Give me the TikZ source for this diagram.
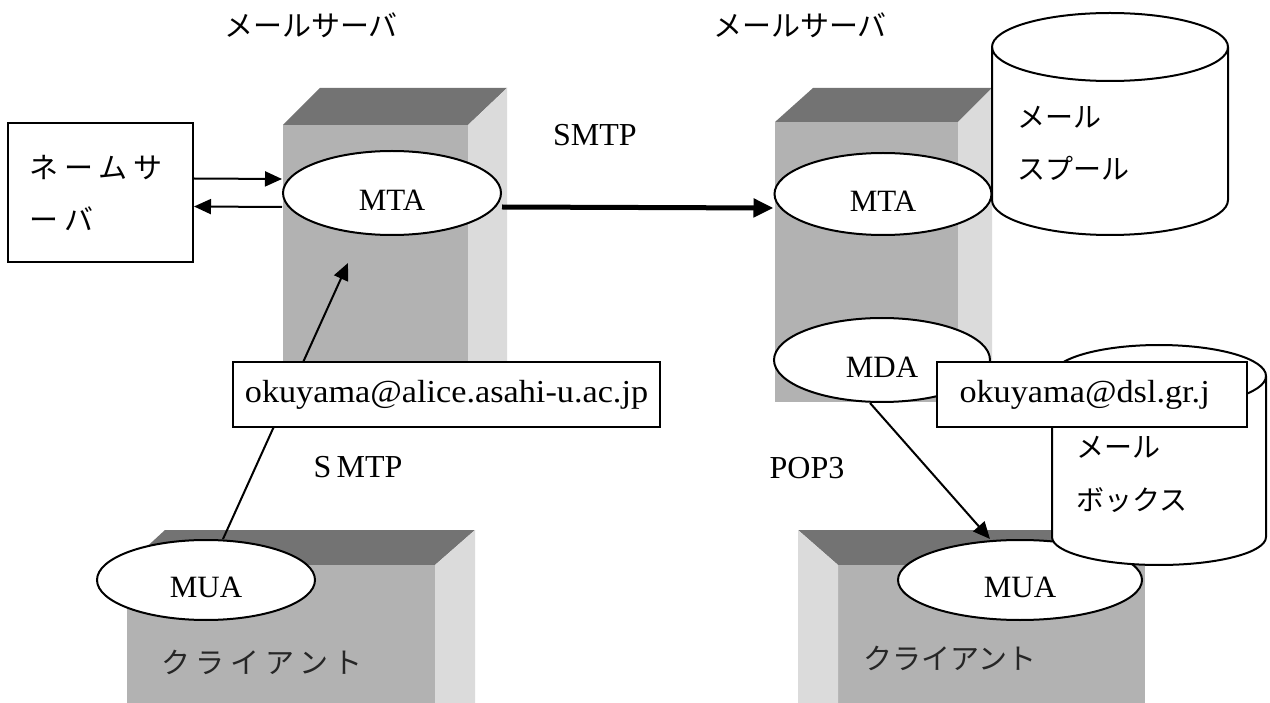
\documentclass[tikz,border=0pt]{standalone}
\usepackage{fontspec}
\usetikzlibrary{shapes.geometric,arrows.meta}
\setmainfont{Liberation Serif}
\newfontfamily\addrfont[FakeStretch=1.07]{Liberation Serif}
\newfontfamily\jp{Noto Sans CJK JP}
\newfontfamily\jpwide[LetterSpace=20]{Noto Sans CJK JP}
\begin{document}
\begin{tikzpicture}[x=1pt,y=-1pt,
  lbl/.style={font=\fontsize{32}{38}\selectfont},
  jtxt/.style={font=\jp\fontsize{28}{34}\selectfont},
  agent/.style={ellipse,draw,line width=2pt,fill=white,inner sep=0pt,text height=35pt,text depth=0pt,font=\fontsize{31}{37}\selectfont},
  addr/.style={draw,line width=2pt,fill=white,inner ysep=0pt,font=\addrfont\fontsize{32}{38}\selectfont},
  thinarrow/.style={line width=2pt,-{Triangle[length=17pt,width=15pt]}},
  thickarrow/.style={line width=5pt,-{Triangle[length=20pt,width=18pt]}},
  cyl/.style={line width=2pt,fill=white},
  frontface/.style={fill=black!30},
  topface/.style={fill=black!55},
  sideface/.style={fill=black!14},
]
\useasboundingbox (0,0) rectangle (1270,703);
\fill[white] (0,0) rectangle (1270,703);

% server blocks
\fill[topface] (283,125) -- (320,88) -- (507,88) -- (468,125) -- cycle;
\fill[frontface] (283,125) rectangle (468,400);
\fill[sideface] (468,125) -- (507,88) -- (507,365) -- (468,400) -- cycle;

\fill[topface] (775,122) -- (813,88) -- (992,88) -- (958,122) -- cycle;
\fill[frontface] (775,122) rectangle (958,402);
\fill[sideface] (958,122) -- (992,88) -- (992,370) -- (958,402) -- cycle;

% client blocks
\fill[topface] (127,565) -- (165,530) -- (475,530) -- (435,565) -- cycle;
\fill[frontface] (127,565) rectangle (435,703);
\fill[sideface] (435,565) -- (475,530) -- (475,703) -- (435,703) -- cycle;

\fill[topface] (798,530) -- (1105,530) -- (1145,565) -- (838,565) -- cycle;
\fill[frontface] (838,565) rectangle (1145,703);
\fill[sideface] (798,530) -- (838,565) -- (838,703) -- (798,703) -- cycle;

% titles and labels
\node[jtxt,font=\jp\fontsize{29}{34}\selectfont] (t1) at (311,25) {メールサーバ};
\node[jtxt,font=\jp\fontsize{29}{34}\selectfont] (t2) at (800,25) {メールサーバ};
\node[lbl] (smtp1) at (595,135) {SMTP};
\node[lbl] (smtp2) at (358,467) {S\,MTP};
\node[lbl] (pop) at (807,468) {POP3};
\node[font=\jpwide\fontsize{29}{34}\selectfont,text=black!85] (c1) at (262,662) {クライアント};
\node[font=\jp\fontsize{29}{34}\selectfont,text=black!85] (c2) at (950,658) {クライアント};

% mail spool
\filldraw[cyl] (992,47) -- (992,200) arc[start angle=180,end angle=0,x radius=118,y radius=35]
  -- (1228,47) arc[start angle=0,end angle=-180,x radius=118,y radius=34] -- cycle;
\draw[line width=2pt] (992,47) arc[start angle=180,end angle=0,x radius=118,y radius=34];
\node[jtxt,anchor=west] (sp1) at (1014,117) {メール};
\node[jtxt,anchor=west] (sp2) at (1014,168) {スプール};

% agents
\node[agent,minimum width=218pt,minimum height=84pt] (lmta) at (392,193) {MTA};
\node[agent,minimum width=217pt,minimum height=82pt] (rmta) at (883,194) {MTA};
\node[agent,minimum width=216pt,minimum height=84pt] (mda) at (882,360) {MDA};
\node[agent,minimum width=218pt,minimum height=80pt] (lmua) at (206,580) {MUA};
\node[agent,minimum width=244pt,minimum height=80pt] (rmua) at (1020,580) {MUA};

% mail box
\filldraw[cyl] (1052,376) -- (1052,537) arc[start angle=180,end angle=0,x radius=107,y radius=28]
  -- (1266,376) arc[start angle=0,end angle=-180,x radius=107,y radius=31] -- cycle;
\draw[line width=2pt] (1052,376) arc[start angle=180,end angle=0,x radius=107,y radius=31];
\node[jtxt,anchor=west] (mb1) at (1073,447) {メール};
\node[jtxt,anchor=west] (mb2) at (1073,500) {ボックス};

% name server
\node[draw,line width=2pt,minimum width=185pt,minimum height=139pt,text width=141pt,
  align=left,inner xsep=22pt,font=\jpwide\fontsize{29}{52}\selectfont] (ns) at (100.5,192.5) {ネームサ\\ーバ};

% connectors
\draw[thinarrow] ([yshift=14pt]ns.east) -- ([yshift=14pt]lmta.west);
\draw[thinarrow] ([yshift=-14pt]lmta.west) -- ([yshift=-14pt]ns.east);
\draw[thickarrow] ([yshift=-14pt]lmta.east) -- ([yshift=-14pt]rmta.west);
\coordinate (mtain) at (348,263);
\draw[thinarrow] ([xshift=17pt]lmua.north) -- (mtain);
\draw[thinarrow] ([xshift=-12pt]mda.south) -- ([xshift=-30pt]rmua.north);

% address boxes
\node[addr,minimum width=427pt,minimum height=65pt] (a1) at (446.5,394.5) {okuyama@alice.asahi-u.ac.jp};
\node[addr,minimum width=310pt,minimum height=65pt,text width=264pt,inner xsep=23pt,align=left] (a2) at (1091.5,394.5) {okuyama@dsl.gr.j};
\end{tikzpicture}
\end{document}
